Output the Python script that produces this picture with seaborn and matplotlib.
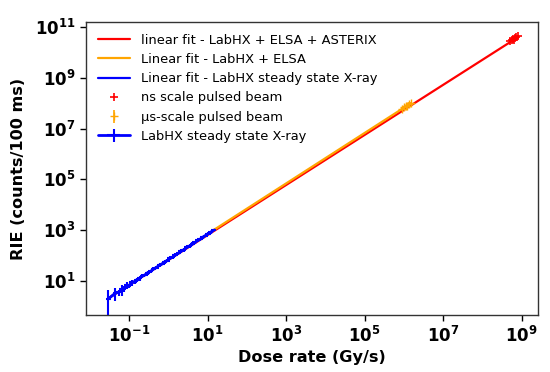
import numpy as np
import pandas as pd
import seaborn as sns
import matplotlib
matplotlib.use("Agg")
import matplotlib.pyplot as plt

# linear fits (end points)
red_fit_x = [0.03, 8.0e8]
red_fit_y = [2.1, 4.0e10]
orange_fit_x = [14.0, 1.5e6]
orange_fit_y = [1000.0, 1.0e8]
blue_fit_x = [0.03, 15.0]
blue_fit_y = [2.1, 1050.0]

# ns scale pulsed beam
ns_dose = [5.0e8, 5.5e8, 6.0e8, 6.3e8, 6.8e8, 7.2e8, 8.0e8]
ns_rie = [2.7e10, 3.0e10, 3.4e10, 3.2e10, 3.7e10, 4.0e10, 4.4e10]

# us scale pulsed beam
us_dose = [9.0e5, 1.0e6, 1.1e6, 1.2e6, 1.35e6, 1.5e6]
us_rie = [6.0e7, 7.0e7, 7.6e7, 8.0e7, 9.2e7, 9.8e7]
us_err = [8.0e6, 1.0e7, 1.2e7, 1.5e7, 2.0e7, 1.5e7]

# LabHX steady state X-ray
xray_dose = [0.03, 0.045, 0.055, 0.065, 0.075, 0.09, 0.1, 0.12, 0.14, 0.16,
             0.19, 0.22, 0.26, 0.3, 0.36, 0.42, 0.5, 0.6, 0.7, 0.82,
             0.95, 1.1, 1.3, 1.5, 1.8, 2.1, 2.5, 3.0, 3.5, 4.1,
             4.8, 5.6, 6.5, 7.6, 8.9, 10.4, 12.0, 14.0]
xray_rie = [2.0, 3.4, 3.6, 4.8, 5.0, 6.8, 6.5, 8.8, 9.5, 11.5,
            13.0, 16.0, 17.5, 21.5, 24.0, 30.0, 34.0, 43.0, 47.0, 58.0,
            64.0, 79.0, 88.0, 107.0, 124.0, 150.0, 170.0, 215.0, 240.0, 290.0,
            330.0, 400.0, 450.0, 540.0, 620.0, 730.0, 840.0, 1000.0]
xray_err = [2.5, 1.8, 1.0, 2.2, 1.2, 2.0, 1.0, 2.5, 1.5, 2.0,
            3.0, 3.0, 2.0, 4.5, 3.0, 6.0, 4.0, 8.0, 6.0, 10.0,
            8.0, 14.0, 12.0, 18.0, 20.0, 28.0, 25.0, 40.0, 35.0, 50.0,
            45.0, 70.0, 60.0, 80.0, 90.0, 100.0, 110.0, 120.0]

sns.set_style("ticks")
plt.rcParams["font.family"] = ["DejaVu Sans"]
plt.rcParams["text.color"] = "black"
plt.rcParams["axes.labelcolor"] = "black"

fig = plt.figure(figsize=(5.5, 3.72), dpi=100)
ax = fig.add_axes([0.156, 0.153, 0.822, 0.788])

fits = pd.DataFrame({
    "x": red_fit_x + orange_fit_x + blue_fit_x,
    "y": red_fit_y + orange_fit_y + blue_fit_y,
    "fit": ["linear fit - LabHX + ELSA + ASTERIX"] * 2
           + ["Linear fit - LabHX + ELSA"] * 2
           + ["Linear fit - LabHX steady state X-ray"] * 2,
})
sns.lineplot(data=fits, x="x", y="y", hue="fit",
             palette=["red", "orange", "blue"], linewidth=1.6,
             ax=ax, legend=False, estimator=None, sort=False)

h_ns, = ax.plot(ns_dose, ns_rie, "+", color="red", markersize=6, mew=1.2)
h_us = ax.errorbar(us_dose, us_rie, yerr=us_err, fmt="+", color="orange",
                   markersize=6, elinewidth=1.2)
h_x = ax.errorbar(xray_dose, xray_rie, yerr=xray_err,
                  xerr=[d * 0.15 for d in xray_dose], fmt="-", color="blue",
                  linewidth=2, elinewidth=1.5)

ax.set_xscale("log")
ax.set_yscale("log")
ax.set_xlim(10 ** -2.1, 10 ** 9.41)
ax.set_ylim(10 ** -0.34, 10 ** 11.2)
ax.set_xticks([1e-1, 1e1, 1e3, 1e5, 1e7, 1e9])
ax.set_yticks([1e1, 1e3, 1e5, 1e7, 1e9, 1e11])
ax.minorticks_off()
ax.tick_params(labelsize=12, length=4, width=1, colors="black")
for lab in ax.get_xticklabels() + ax.get_yticklabels():
    lab.set_fontweight("bold")
for sp in ax.spines.values():
    sp.set_color("#333333")
    sp.set_linewidth(1)

ax.set_xlabel("Dose rate (Gy/s)", fontsize=11.6, fontweight="bold", labelpad=3)
ax.set_ylabel("RIE (counts/100 ms)", fontsize=11.6, fontweight="bold", labelpad=6)

lines = ax.get_lines()[:3]
handles = list(lines) + [h_ns, h_us, h_x]
labels = ["linear fit - LabHX + ELSA + ASTERIX", "Linear fit - LabHX + ELSA",
          "Linear fit - LabHX steady state X-ray", "ns scale pulsed beam",
          "\u03bcs-scale pulsed beam", "LabHX steady state X-ray"]
ax.legend(handles, labels, loc="upper left", frameon=False, fontsize=9.4,
          handlelength=2.5, borderaxespad=0.5, labelspacing=0.48,
          labelcolor="black")

fig.savefig("out.png", dpi=100)
